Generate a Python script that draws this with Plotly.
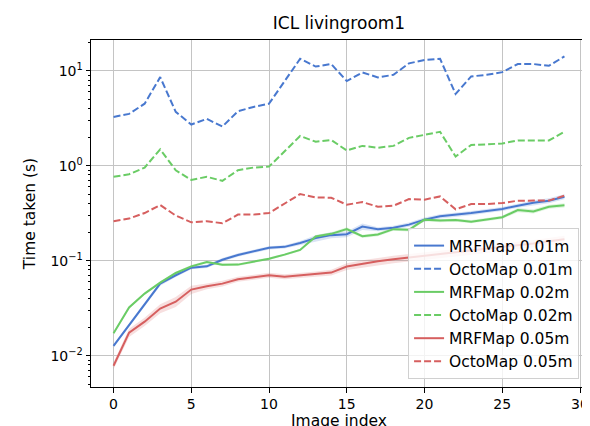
import plotly.graph_objects as go

image_index = list(range(30))

mrf_001 = [0.0127, 0.0211, 0.0349, 0.0574, 0.0703, 0.0845, 0.0873, 0.1025, 0.115, 0.125,
           0.137, 0.140, 0.154, 0.173, 0.186, 0.190, 0.229, 0.215, 0.222, 0.240,
           0.271, 0.294, 0.303, 0.318, 0.334, 0.351, 0.380, 0.409, 0.429, 0.472]
octo_001 = [3.27, 3.52, 4.51, 8.59, 3.70, 2.72, 3.12, 2.59, 3.76, 4.17,
            4.51, 7.85, 13.4, 11.1, 11.8, 7.8, 9.62, 8.53, 9.08, 12.0,
            13.0, 13.4, 5.70, 8.74, 9.08, 9.69, 11.8, 11.8, 11.3, 14.2]
mrf_002 = [0.0172, 0.0322, 0.0451, 0.0589, 0.0743, 0.0873, 0.0969, 0.0908, 0.091, 0.097,
           0.105, 0.116, 0.130, 0.180, 0.192, 0.216, 0.181, 0.189, 0.215, 0.212,
           0.271, 0.265, 0.268, 0.258, 0.271, 0.287, 0.342, 0.331, 0.371, 0.383]
octo_002 = [0.765, 0.815, 0.958, 1.49, 0.897, 0.711, 0.765, 0.695, 0.897, 0.958,
            0.98, 1.43, 2.06, 1.79, 1.87, 1.45, 1.62, 1.55, 1.62, 1.97,
            2.10, 2.28, 1.25, 1.66, 1.68, 1.72, 1.85, 1.85, 1.85, 2.28]
mrf_005 = [0.00784, 0.0175, 0.0228, 0.0314, 0.0370, 0.0497, 0.0539, 0.0574, 0.0638, 0.0664,
           0.0703, 0.068, 0.070, 0.072, 0.075, 0.087, 0.093, 0.0986, 0.1035, 0.108,
           0.113, 0.118, 0.122, 0.127, 0.132, 0.138, 0.145, 0.152, 0.160, 0.168]
octo_005 = [0.261, 0.278, 0.318, 0.386, 0.299, 0.254, 0.261, 0.248, 0.306, 0.306,
            0.318, 0.402, 0.503, 0.465, 0.46, 0.389, 0.415, 0.371, 0.38, 0.446,
            0.44, 0.476, 0.348, 0.395, 0.395, 0.405, 0.429, 0.43, 0.43, 0.484]

# relative spread (std / mean) of the MRFMap timings
spread_001 = [0.04, 0.04, 0.04, 0.05, 0.04, 0.04, 0.04, 0.04, 0.04, 0.04,
              0.04, 0.04, 0.05, 0.07, 0.07, 0.07, 0.08, 0.05, 0.05, 0.05,
              0.05, 0.05, 0.05, 0.05, 0.05, 0.05, 0.05, 0.06, 0.06, 0.06]
spread_002 = [0.03, 0.03, 0.03, 0.03, 0.03, 0.03, 0.03, 0.03, 0.03, 0.03,
              0.03, 0.03, 0.03, 0.04, 0.04, 0.04, 0.04, 0.04, 0.04, 0.04,
              0.04, 0.04, 0.04, 0.04, 0.04, 0.04, 0.05, 0.05, 0.05, 0.05]
spread_005 = [0.08, 0.10, 0.10, 0.11, 0.12, 0.10, 0.07, 0.07, 0.06, 0.06,
              0.06, 0.06, 0.06, 0.07, 0.07, 0.08, 0.09, 0.09, 0.09, 0.09,
              0.09, 0.09, 0.09, 0.09, 0.09, 0.09, 0.09, 0.09, 0.09, 0.09]

y_tickvals = [0.01, 0.1, 1, 10]
y_ticktext = ["10<sup>\u22122</sup>", "10<sup>\u22121</sup>", "10<sup>0</sup>", "10<sup>1</sup>"]
x_tickvals = [0, 5, 10, 15, 20, 25, 30]

BLUE = "#4878CF"
GREEN = "#6ACC65"
RED = "#D65F5F"

def rgba(hex_color, a):
    h = hex_color.lstrip("#")
    r, g, b = int(h[0:2], 16), int(h[2:4], 16), int(h[4:6], 16)
    return f"rgba({r},{g},{b},{a})"

fig = go.Figure()

series = [
    ("MRFMap 0.01m", mrf_001, BLUE, "solid", spread_001),
    ("OctoMap 0.01m", octo_001, BLUE, "7px,3px", None),
    ("MRFMap 0.02m", mrf_002, GREEN, "solid", spread_002),
    ("OctoMap 0.02m", octo_002, GREEN, "7px,3px", None),
    ("MRFMap 0.05m", mrf_005, RED, "solid", spread_005),
    ("OctoMap 0.05m", octo_005, RED, "7px,3px", None),
]

# bands first
for name, vals, col, dash, spr in series:
    if spr is None:
        continue
    upper = [v * (1 + s) for v, s in zip(vals, spr)]
    lower = [v * (1 - s) for v, s in zip(vals, spr)]
    fig.add_trace(go.Scatter(x=image_index, y=upper, mode="lines", line=dict(width=0),
                             showlegend=False, hoverinfo="skip"))
    fig.add_trace(go.Scatter(x=image_index, y=lower, mode="lines", line=dict(width=0),
                             fill="tonexty", fillcolor=rgba(col, 0.2),
                             showlegend=False, hoverinfo="skip"))

for name, vals, col, dash, spr in series:
    fig.add_trace(go.Scatter(x=image_index, y=vals, mode="lines", name=name,
                             line=dict(color=col, width=2, dash=dash)))

axis_common = dict(
    showline=True, linecolor="black", linewidth=1, mirror=True,
    ticks="outside", ticklen=4.5, tickwidth=1, tickcolor="black",
    showgrid=True, gridcolor="#c4c4c4", gridwidth=1.3,
    zeroline=False,
    tickfont=dict(family="DejaVu Sans", size=14, color="black"),
)

fig.update_layout(
    width=590, height=426,
    margin=dict(l=83, r=9, t=32, b=45),
    paper_bgcolor="white", plot_bgcolor="white",
    font=dict(family="DejaVu Sans", color="black"),
    title=dict(text="ICL livingroom1", x=0.5, xref="paper", xanchor="center",
               y=1 - 15 / 426, yref="container", yanchor="middle",
               font=dict(family="DejaVu Sans", size=17, color="black")),
    xaxis=dict(range=[-1.45, 30.45], tickvals=x_tickvals,
               title=dict(text="Image index", standoff=2,
                          font=dict(family="DejaVu Sans", size=15.5, color="black")),
               **axis_common),
    yaxis=dict(type="log", range=[-2.33, 1.325], tickvals=y_tickvals, ticktext=y_ticktext,
               title=dict(text="Time taken (s)", standoff=10,
                          font=dict(family="DejaVu Sans", size=15.5, color="black")),
               minor=dict(ticks="outside", ticklen=2.5, tickwidth=0.8, tickcolor="black",
                          tickmode="array",
                          tickvals=[m * 10 ** e for e in (-3, -2, -1, 0, 1) for m in range(2, 10)],
                          showgrid=False),
               **axis_common),
    legend=dict(x=0.984, y=0.023, xanchor="right", yanchor="bottom",
                traceorder="normal",
                bgcolor="rgba(255,255,255,0.8)", bordercolor="#d0d0d0", borderwidth=1,
                font=dict(family="DejaVu Sans", size=15.5, color="black"),
                tracegroupgap=0, itemwidth=30),
)

fig.write_html("out.html")
